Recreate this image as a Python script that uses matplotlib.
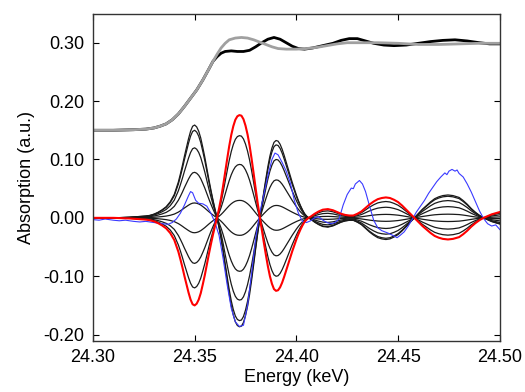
import numpy as np
import matplotlib
matplotlib.use('Agg')
import matplotlib.pyplot as plt
from matplotlib.ticker import FormatStrFormatter

plt.rcParams['font.family'] = ['Liberation Sans', 'DejaVu Sans']

# difference spectrum (red)
e_diff = [24.300, 24.310, 24.318, 24.322, 24.326, 24.328, 24.330, 24.332, 24.334, 24.336,
          24.338, 24.340, 24.342, 24.343, 24.344, 24.345, 24.346, 24.347, 24.348, 24.349,
          24.350, 24.351, 24.352, 24.353, 24.354, 24.355, 24.356, 24.357, 24.358, 24.359,
          24.360, 24.361, 24.362, 24.363, 24.364, 24.365, 24.366, 24.367, 24.368, 24.369,
          24.370, 24.371, 24.372, 24.373, 24.374, 24.375, 24.376, 24.377, 24.378, 24.379,
          24.380, 24.381, 24.382, 24.383, 24.384, 24.385, 24.386, 24.387, 24.388, 24.389,
          24.390, 24.391, 24.392, 24.393, 24.394, 24.395, 24.396, 24.397, 24.398, 24.399,
          24.400, 24.401, 24.402, 24.403, 24.404, 24.405, 24.406, 24.407, 24.409, 24.411,
          24.413, 24.4155, 24.418, 24.420, 24.422, 24.424, 24.426, 24.428, 24.430, 24.432,
          24.434, 24.436, 24.438, 24.440, 24.442, 24.444, 24.446, 24.448, 24.450, 24.452,
          24.454, 24.456, 24.458, 24.460, 24.462, 24.464, 24.466, 24.468, 24.470, 24.472,
          24.4745, 24.477, 24.480, 24.482, 24.484, 24.486, 24.488, 24.490, 24.492, 24.494,
          24.496, 24.498, 24.500]
red = [0.000, 0.000, -0.001, -0.002, -0.003, -0.004, -0.006, -0.009, -0.013, -0.018,
       -0.026, -0.038, -0.058, -0.071, -0.085, -0.100, -0.114, -0.128, -0.140, -0.148,
       -0.150, -0.147, -0.140, -0.129, -0.114, -0.098, -0.080, -0.062, -0.045, -0.029,
       -0.014, 0.000, 0.016, 0.034, 0.055, 0.078, 0.101, 0.123, 0.142, 0.157,
       0.168, 0.174, 0.176, 0.175, 0.169, 0.158, 0.143, 0.124, 0.101, 0.076,
       0.050, 0.025, 0.002, -0.020, -0.042, -0.063, -0.083, -0.100, -0.113, -0.122,
       -0.125, -0.124, -0.119, -0.111, -0.101, -0.090, -0.079, -0.068, -0.057, -0.047,
       -0.037, -0.028, -0.020, -0.013, -0.007, -0.003, 0.000, 0.002, 0.007, 0.011,
       0.014, 0.015, 0.013, 0.010, 0.007, 0.005, 0.004, 0.004, 0.007, 0.011,
       0.017, 0.023, 0.028, 0.032, 0.034, 0.035, 0.034, 0.031, 0.027, 0.021,
       0.014, 0.007, 0.000, -0.007, -0.014, -0.020, -0.026, -0.031, -0.034, -0.036,
       -0.037, -0.036, -0.033, -0.028, -0.022, -0.015, -0.009, -0.004, 0.000, 0.003,
       0.006, 0.008, 0.010]

# black family: amplitude of each curve relative to the red one
black_ratio = [-1.06, -1.0, -0.8, -0.52, -0.17, 0.17, 0.52, 0.8]

# measured difference (blue)
e_blue = [24.300, 24.303, 24.306, 24.310, 24.313, 24.316, 24.320, 24.323, 24.326, 24.330,
          24.334, 24.337, 24.339, 24.341, 24.343, 24.345, 24.347, 24.348, 24.349, 24.3505,
          24.352, 24.354, 24.356, 24.358, 24.360, 24.362, 24.364, 24.366, 24.368, 24.370,
          24.372, 24.374, 24.376, 24.378, 24.380, 24.382, 24.384, 24.386, 24.388, 24.3895,
          24.391, 24.393, 24.395, 24.397, 24.399, 24.401, 24.403, 24.405, 24.407, 24.409,
          24.411, 24.413, 24.415, 24.417, 24.419, 24.421, 24.423, 24.425, 24.427, 24.428,
          24.429, 24.431, 24.4325, 24.434, 24.436, 24.438, 24.440, 24.442, 24.445, 24.448,
          24.4495, 24.451, 24.453, 24.455, 24.457, 24.459, 24.461, 24.463, 24.465, 24.467,
          24.469, 24.471, 24.473, 24.474, 24.475, 24.4765, 24.478, 24.479, 24.480, 24.482,
          24.484, 24.486, 24.488, 24.490, 24.492, 24.494, 24.496, 24.498, 24.500]
blue = [-0.003, -0.004, -0.002, -0.004, -0.005, -0.004, -0.006, -0.007, -0.006, -0.008,
        -0.010, -0.011, -0.008, -0.002, 0.008, 0.022, 0.038, 0.045, 0.043, 0.030,
        0.025, 0.024, 0.020, 0.008, -0.008, -0.030, -0.070, -0.115, -0.155, -0.178,
        -0.186, -0.184, -0.150, -0.095, -0.035, 0.008, 0.040, 0.072, 0.100, 0.111,
        0.108, 0.095, 0.080, 0.060, 0.030, 0.008, -0.006, -0.008, -0.005, 0.000,
        0.002, -0.004, -0.008, -0.010, -0.008, -0.002, 0.022, 0.040, 0.051, 0.050,
        0.058, 0.064, 0.058, 0.045, 0.020, -0.004, -0.017, -0.022, -0.026, -0.031,
        -0.034, -0.030, -0.024, -0.014, -0.002, 0.010, 0.020, 0.030, 0.042, 0.052,
        0.062, 0.070, 0.077, 0.074, 0.080, 0.083, 0.080, 0.082, 0.076, 0.070,
        0.058, 0.044, 0.028, 0.012, -0.001, -0.010, -0.014, -0.012, -0.020]

# absorption spectra (top)
e_grey = [24.300, 24.310, 24.320, 24.326, 24.330, 24.333, 24.336, 24.339, 24.342, 24.345,
          24.348, 24.351, 24.354, 24.357, 24.359, 24.361, 24.363, 24.365, 24.367, 24.370,
          24.373, 24.376, 24.379, 24.382, 24.385, 24.388, 24.391, 24.395, 24.400, 24.405,
          24.410, 24.415, 24.420, 24.425, 24.430, 24.440, 24.450, 24.460, 24.470, 24.480,
          24.490, 24.500]
grey = [0.150, 0.150, 0.151, 0.152, 0.154, 0.157, 0.161, 0.168, 0.178, 0.191,
        0.205, 0.219, 0.236, 0.255, 0.268, 0.280, 0.291, 0.299, 0.305, 0.308,
        0.309, 0.308, 0.305, 0.301, 0.297, 0.293, 0.290, 0.289, 0.289, 0.290,
        0.292, 0.295, 0.298, 0.300, 0.300, 0.300, 0.299, 0.297, 0.297, 0.298,
        0.299, 0.299]
e_blk = [24.300, 24.310, 24.320, 24.326, 24.330, 24.333, 24.336, 24.339, 24.342, 24.345,
         24.348, 24.351, 24.354, 24.357, 24.359, 24.361, 24.363, 24.365, 24.368, 24.371,
         24.374, 24.377, 24.380, 24.383, 24.386, 24.389, 24.392, 24.395, 24.398, 24.401,
         24.404, 24.408, 24.413, 24.418, 24.422, 24.426, 24.430, 24.434, 24.438, 24.443,
         24.448, 24.454, 24.460, 24.466, 24.472, 24.478, 24.484, 24.490, 24.495, 24.500]
blk = [0.150, 0.150, 0.151, 0.152, 0.154, 0.157, 0.161, 0.168, 0.178, 0.191,
       0.205, 0.219, 0.236, 0.255, 0.268, 0.276, 0.282, 0.285, 0.286, 0.285,
       0.285, 0.287, 0.293, 0.300, 0.306, 0.309, 0.306, 0.300, 0.294, 0.290,
       0.289, 0.291, 0.295, 0.299, 0.304, 0.307, 0.307, 0.303, 0.299, 0.296,
       0.295, 0.296, 0.299, 0.302, 0.304, 0.305, 0.303, 0.300, 0.298, 0.298]

fig = plt.figure(figsize=(5.25, 3.92), dpi=100)
ax = fig.add_axes([0.177, 0.130, 0.775, 0.834])

red_arr = np.array(red)
for r in black_ratio:
    ax.plot(e_diff, r * red_arr, color='#1a1a1a', lw=0.9)
ax.plot(e_blue, blue, color='#3a3aff', lw=0.8)
ax.plot(e_diff, red, color='red', lw=1.5)

ax.plot(e_blk, blk, color='black', lw=2.0)
ax.plot(e_grey, grey, color='#a0a0a0', lw=2.0)

ax.set_xlim(24.30, 24.50)
ax.set_ylim(-0.211, 0.349)
ax.set_xticks([24.30, 24.35, 24.40, 24.45, 24.50])
ax.set_yticks([-0.20, -0.10, 0.00, 0.10, 0.20, 0.30])
ax.xaxis.set_major_formatter(FormatStrFormatter('%.2f'))
ax.yaxis.set_major_formatter(FormatStrFormatter('%.2f'))
ax.tick_params(direction='in', top=True, right=True, length=4, width=0.8,
               labelsize=13, pad=6)
for s in ax.spines.values():
    s.set_linewidth(1.0)
    s.set_color('#333333')
ax.set_xlabel('Energy (keV)', fontsize=13, labelpad=2)
ax.set_ylabel('Absorption (a.u.)', fontsize=13, labelpad=6)

fig.savefig('out.png', dpi=100)
